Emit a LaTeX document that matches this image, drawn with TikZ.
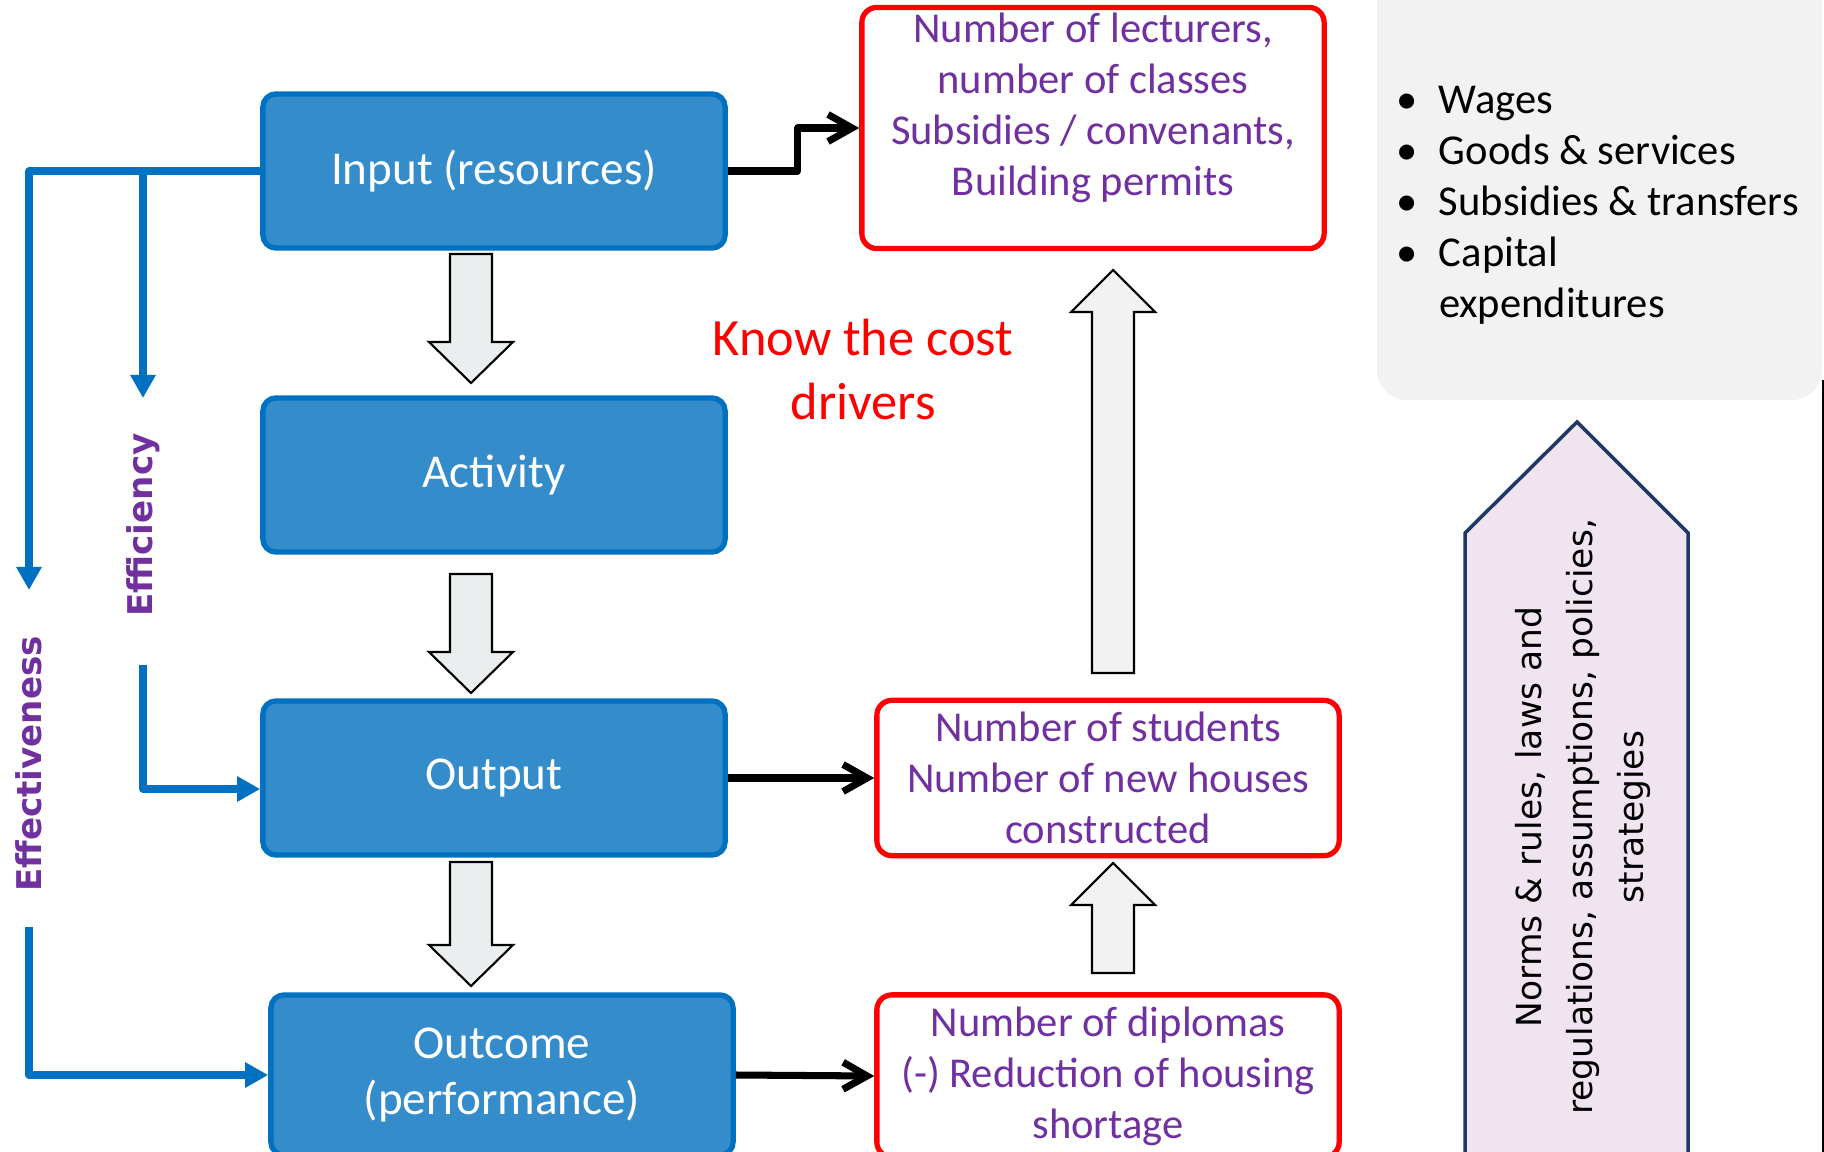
\documentclass[tikz,border=0pt]{standalone}
\usepackage{fontspec}
\setmainfont{Carlito}
\newfontfamily\verd{DejaVu Sans}
\usetikzlibrary{arrows.meta, positioning}

\definecolor{boxblue}{HTML}{358CCB}
\definecolor{lineblue}{HTML}{0070C0}
\definecolor{txtpurple}{HTML}{7030A0}
\definecolor{arrgray}{HTML}{EAEEEE}
\definecolor{listgray}{HTML}{F2F2F2}
\definecolor{normsfill}{HTML}{EFE4F0}
\definecolor{normsline}{HTML}{1F3864}

% block arrow: x, start, head base, tip
\newcommand{\blkarrow}[5][arrgray]{%
  \draw[blkarr, fill=#1] (#2-21,#3) -- (#2+21,#3) -- (#2+21,#4) -- (#2+42,#4) -- (#2,#5)
    -- (#2-42,#4) -- (#2-21,#4) -- cycle;}

\begin{document}
\begin{tikzpicture}[x=0.01cm, y=-0.01cm,
    bluebox/.style={draw=lineblue, line width=1.5pt, fill=boxblue, rounded corners=0.13cm,
      minimum width=4.62cm, minimum height=1.54cm, text=white, align=center,
      font=\fontsize{13.4}{16}\selectfont},
    redbox/.style={draw=red, line width=1.5pt, rounded corners=0.15cm, minimum width=4.62cm,
      minimum height=1.55cm, text=txtpurple, align=center, font=\fontsize{12.1}{14.5}\selectfont},
    purpletxt/.style={text=txtpurple, align=center, font=\fontsize{12.1}{14.5}\selectfont},
    efflabel/.style={rotate=90, text=txtpurple, font=\verd\bfseries\fontsize{9.7}{12}\selectfont},
    bluecon/.style={draw=lineblue, line width=2pt, line join=round, -{Triangle[length=0.23cm, width=0.24cm]}},
    blackcon/.style={draw=black, line width=2pt, line join=round, -{Straight Barb[length=0.24cm, width=0.27cm]}},
    blkarr/.style={draw=black, line width=0.6pt}]
  \useasboundingbox (0,0) rectangle (1824,1152);

  % right panel
  \draw[line width=0.6pt] (1823,380) -- (1823,1152);
  \fill[listgray, rounded corners=0.3cm] (1377,-40) rectangle (1822,400);
  \node[anchor=west, inner sep=0pt] (costlist) at (1396,205) {\fontsize{12.1}{14.5}\selectfont
    \begin{tabular}{@{}l@{\hspace{6pt}}l@{}}
      \textbullet & Wages\\
      \textbullet & Goods \& services\\
      \textbullet & Subsidies \& transfers\\
      \textbullet & Capital\\
                  & expenditures
    \end{tabular}};
  \draw[draw=normsline, line width=1pt, fill=normsfill]
    (1465,1165) -- (1465,533) -- (1577,422) -- (1688,533) -- (1688,1165);
  \node[rotate=90, align=center, font=\verd\fontsize{9.8}{14.6}\selectfont] (norms) at (1583,817)
    {Norms \& rules, laws and\\regulations, assumptions, policies,\\strategies};

  % chain
  \node[bluebox] (input) at (494,171) {Input (resources)};
  \node[bluebox] (activity) at (494,475) {Activity};
  \node[bluebox] (output) at (494,778) {Output};
  \node[bluebox, minimum height=1.6cm] (outcome) at (502,1075) {Outcome\\(performance)};

  \blkarrow{471}{254}{342}{383}
  \blkarrow{471}{574}{652}{693}
  \blkarrow{471}{862}{945}{986}

  % indicators
  \node[redbox, minimum height=2.41cm] (costs) at (1093,128) {};
  \node[purpletxt] (coststxt) at (1093,108) {Number of lecturers,\\number of classes\\Subsidies / convenants,\\Building permits};
  \node[redbox] (students) at (1108,778) {Number of students\\Number of new houses\\constructed};
  \node[redbox, minimum height=1.58cm] (diplomas) at (1108,1076) {Number of diplomas\\(-) Reduction of housing\\shortage};

  \blkarrow[listgray]{1113}{673}{312}{270}
  \blkarrow[listgray]{1113}{973}{905}{863}

  \node[text=red, align=center, font=\fontsize{14.9}{18.2}\selectfont] (costdrv) at (863,370) {Know the cost\\drivers};

  \draw[blackcon] (input.east) -- ++(70,0) |- (costs.west);
  \draw[blackcon] (output.east) -- (students.west);
  \draw[blackcon] (outcome.east) -- (diplomas.west);

  % efficiency / effectiveness
  \node[efflabel] (efficiency) at (143,525) {Efficiency};
  \node[efflabel] (effectiveness) at (29,764) {Effectiveness};
  \coordinate (efftip) at (143,398);
  \coordinate (efvtip) at (29,590);
  \coordinate (effstart) at (143,665);
  \coordinate (efvstart) at (29,927);
  \draw[bluecon] (input.west) -| (efvtip);
  \draw[bluecon] (input.west -| efftip) -- (efftip);
  \draw[bluecon] (effstart) |- ([yshift=-0.11cm]output.west);
  \draw[bluecon] (efvstart) |- (outcome.west);
\end{tikzpicture}
\end{document}
